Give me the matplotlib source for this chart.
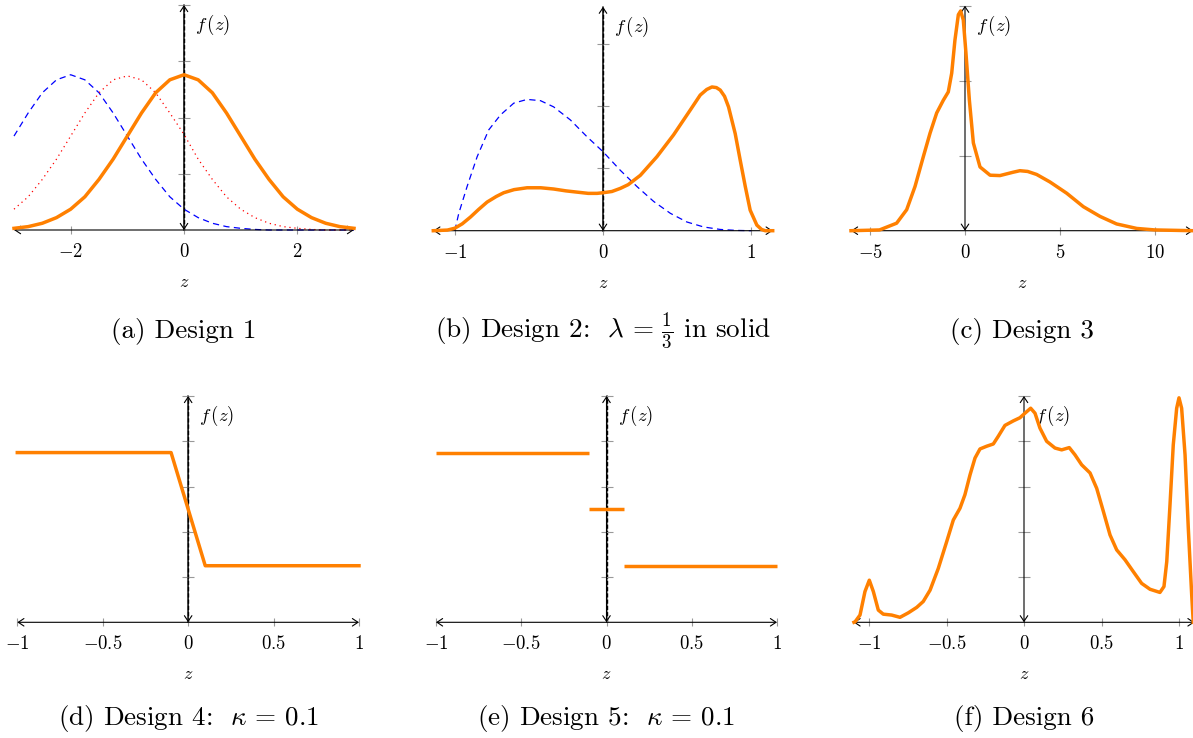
import numpy as np
import matplotlib.pyplot as plt

plt.rcParams['mathtext.fontset'] = 'cm'
plt.rcParams['font.family'] = ['DejaVu Serif']

ORANGE = '#ff8000'

# ---- panel (a): Design 1 ----
z_a = [-3.0, -2.75, -2.5, -2.25, -2.0, -1.75, -1.5, -1.25, -1.0, -0.75, -0.5, -0.25, 0.0,
       0.25, 0.5, 0.75, 1.0, 1.25, 1.5, 1.75, 2.0, 2.25, 2.5, 2.75, 3.0]
f_a_solid = [0.003, 0.006, 0.012, 0.022, 0.037, 0.059, 0.090, 0.126, 0.167, 0.208, 0.244, 0.267, 0.276,
             0.267, 0.244, 0.208, 0.167, 0.126, 0.090, 0.059, 0.037, 0.022, 0.012, 0.006, 0.003]
f_a_dashed = [0.167, 0.208, 0.244, 0.267, 0.276, 0.267, 0.244, 0.208, 0.167, 0.126, 0.090, 0.059, 0.037,
              0.022, 0.012, 0.006, 0.003, 0.001, 0.0, 0.0, 0.0, 0.0, 0.0, 0.0, 0.0]
f_a_dotted = [0.037, 0.059, 0.090, 0.126, 0.167, 0.208, 0.244, 0.267, 0.274, 0.267, 0.244, 0.208, 0.170,
              0.126, 0.090, 0.059, 0.037, 0.022, 0.012, 0.006, 0.003, 0.001, 0.0, 0.0, 0.0]

# ---- panel (b): Design 2 ----
z_b = [-1.145, -1.05, -1.0, -0.95, -0.894, -0.84, -0.782, -0.72, -0.67, -0.60, -0.512, -0.42, -0.333,
       -0.25, -0.175, -0.10, -0.04, 0.0, 0.06, 0.117, 0.17, 0.252, 0.364, 0.476, 0.589, 0.656, 0.70,
       0.735, 0.765, 0.791, 0.82, 0.847, 0.892, 0.926, 0.960, 0.993, 1.038, 1.07, 1.094, 1.145]
f_b_solid = [0.0, 0.005, 0.02, 0.055, 0.11, 0.17, 0.23, 0.275, 0.305, 0.33, 0.345, 0.345, 0.335,
             0.32, 0.31, 0.30, 0.30, 0.305, 0.315, 0.34, 0.37, 0.445, 0.595, 0.77, 0.97, 1.09, 1.135,
             1.155, 1.15, 1.13, 1.08, 0.995, 0.78, 0.565, 0.355, 0.165, 0.045, 0.01, 0.0, 0.0]
zb_dash = [-1.0, -0.973, -0.917, -0.849, -0.771, -0.692, -0.602, -0.512, -0.422, -0.333, -0.22, -0.108,
           0.0, 0.117, 0.229, 0.342, 0.454, 0.566, 0.679, 0.791, 0.90, 1.0]
f_b_dashed = [0.0, 0.14, 0.355, 0.595, 0.81, 0.93, 1.025, 1.055, 1.045, 0.995, 0.89, 0.755,
              0.635, 0.485, 0.355, 0.235, 0.14, 0.07, 0.03, 0.01, 0.0025, 0.0]

# ---- panel (c): Design 3 ----
z_c = [-6.0, -4.5, -3.6, -3.07, -2.63, -2.19, -1.84, -1.49, -1.14, -0.88, -0.70, -0.53, -0.35, -0.23,
       -0.09, 0.05, 0.23, 0.44, 0.79, 1.32, 1.84, 2.54, 2.89, 3.3, 3.77, 4.47, 5.35, 6.23, 7.11, 7.98,
       9.04, 10.0, 12.0]
f_c = [0.0, 0.001, 0.010, 0.028, 0.059, 0.099, 0.130, 0.157, 0.174, 0.185, 0.210, 0.254, 0.288, 0.293,
       0.281, 0.237, 0.174, 0.117, 0.085, 0.074, 0.0735, 0.078, 0.080, 0.079, 0.075, 0.065, 0.050, 0.032,
       0.019, 0.009, 0.003, 0.001, 0.0]

# ---- panels (d), (e): Designs 4 and 5 ----
z_d = [-1.0, -0.1, 0.1, 1.0]
f_d = [0.75, 0.75, 0.25, 0.25]
z_e_pieces = [(-1.0, -0.1), (-0.1, 0.1), (0.1, 1.0)]
f_e_pieces = [0.75, 0.5, 0.25]

# ---- panel (f): Design 6 ----
z_f = [-1.097, -1.090, -1.058, -1.026, -0.998, -0.972, -0.940, -0.908, -0.854, -0.800, -0.746, -0.692,
       -0.650, -0.606, -0.553, -0.499, -0.456, -0.413, -0.381, -0.348, -0.316, -0.284, -0.241, -0.198,
       -0.166, -0.123, -0.069, -0.026, 0.006, 0.043, 0.071, 0.103, 0.146, 0.200, 0.243, 0.292, 0.329,
       0.372, 0.426, 0.469, 0.512, 0.555, 0.598, 0.652, 0.705, 0.759, 0.813, 0.877, 0.903, 0.921, 0.942,
       0.963, 0.985, 1.0, 1.017, 1.039, 1.060, 1.082, 1.092]
f_f = [0.0, 0.002, 0.032, 0.136, 0.186, 0.136, 0.054, 0.036, 0.032, 0.022, 0.042, 0.066,
       0.092, 0.142, 0.238, 0.356, 0.452, 0.504, 0.564, 0.652, 0.726, 0.766, 0.778, 0.788,
       0.822, 0.870, 0.890, 0.904, 0.924, 0.946, 0.924, 0.858, 0.800, 0.770, 0.762, 0.772, 0.740,
       0.696, 0.660, 0.592, 0.490, 0.386, 0.320, 0.276, 0.224, 0.172, 0.146, 0.132, 0.158, 0.268, 0.520,
       0.784, 0.946, 0.992, 0.946, 0.740, 0.416, 0.120, 0.0]

W, H = 1193, 738
fig = plt.figure(figsize=(W / 100, H / 100), dpi=100)


def make_axes(x0, x1, base, top, xlim, ylim):
    ax = fig.add_axes([x0 / W, 1 - base / H, (x1 - x0) / W, (base - top) / H])
    ax.set_xlim(*xlim)
    ax.set_ylim(*ylim)
    ax.axis('off')
    return ax


def draw_frame(ax, xticks, xlabels, yticks, dashed_y=True):
    x0, x1 = ax.get_xlim()
    y1 = ax.get_ylim()[1]
    arrow = dict(arrowstyle='<->, head_length=0.45, head_width=0.3', lw=0.8, color='black',
                 shrinkA=0, shrinkB=0, mutation_scale=9)
    ax.annotate('', xy=(x1, 0), xytext=(x0, 0), arrowprops=arrow, annotation_clip=False)
    ax.annotate('', xy=(0, y1), xytext=(0, 0), arrowprops=arrow, annotation_clip=False)
    if dashed_y:
        ax.plot([0, 0], [0, y1], color='#888888', lw=1.4, zorder=1, clip_on=False)
        ax.plot([0, 0], [0, y1], color='black', lw=1.0, ls=(0, (3, 1.5)), zorder=2, clip_on=False)
    for xt, lab in zip(xticks, xlabels):
        ax.plot(xt, 0, marker='|', ms=6, mew=0.8, color='#999999', clip_on=False)
        ax.annotate(lab, (xt, 0), xytext=(0, -22), textcoords='offset pixels',
                    ha='center', va='center', fontsize=13.5)
    for yt in yticks:
        ax.plot(0, yt, marker='_', ms=8, mew=0.8, color='#999999', clip_on=False)
    ax.annotate('$z$', (0.5, 0), xycoords=('axes fraction', 'data'), xytext=(0, -52),
                textcoords='offset pixels', ha='center', va='center', fontsize=13)
    ax.annotate('$f\\,(z)$', (0, y1), xytext=(11, -20), textcoords='offset pixels',
                ha='left', va='center', fontsize=13.5)


def caption(ax, text, y_px):
    bb = ax.get_position()
    fig.text((bb.x0 + bb.x1) / 2, 1 - y_px / H, text, ha='center', va='center',
             fontsize=19.5, family='cmr10')


# (a)
ax = make_axes(14, 354, 230, 5, (-3, 3), (0, 0.4))
draw_frame(ax, [-2, 0, 2], ['$-2$', '$0$', '$2$'], [0.1, 0.2, 0.3, 0.4])
ax.plot(z_a, f_a_dashed, color='blue', lw=0.9, ls=(0, (5, 3.5)), clip_on=False)
ax.plot(z_a, f_a_dotted, color='red', lw=0.9, ls=(0, (1, 3)), clip_on=False)
ax.plot(z_a, f_a_solid, color=ORANGE, lw=2.5, clip_on=False, zorder=5)
caption(ax, '(a) Design 1', 331)

# (b)
ax = make_axes(433.3, 772.7, 230.7, 6.7, (-1.145, 1.145), (0, 1.8))
draw_frame(ax, [-1, 0, 1], ['$-1$', '$0$', '$1$'], [0.5, 1.0, 1.5])
ax.plot(zb_dash, f_b_dashed, color='blue', lw=0.9, ls=(0, (5, 3.5)), clip_on=False)
ax.plot(z_b, f_b_solid, color=ORANGE, lw=2.5, clip_on=False, zorder=5)
caption(ax, r'(b) Design 2:  $\lambda\,=\,\frac{1}{3}$ in solid', 331)

# (c)
ax = make_axes(851, 1193, 230.7, 5.7, (-6, 12), (0, 0.3))
draw_frame(ax, [-5, 0, 5, 10], ['$-5$', '$0$', '$5$', '$10$'], [0.1, 0.2, 0.3], dashed_y=False)
ax.plot(z_c, f_c, color=ORANGE, lw=2.5, clip_on=False, zorder=5)
caption(ax, '(c) Design 3', 331)

xt_bottom = [-1, -0.5, 0, 0.5, 1]
xl_bottom = ['$-1$', '$-0.5$', '$0$', '$0.5$', '$1$']

# (d)
ax = make_axes(17.3, 359, 622.3, 396, (-1, 1), (0, 1.0))
draw_frame(ax, xt_bottom, xl_bottom, [0.2, 0.4, 0.6, 0.8, 1.0])
ax.plot(z_d, f_d, color=ORANGE, lw=2.5, clip_on=False, zorder=5)
caption(ax, r'(d) Design 4:  $\kappa\,=\,0.1$', 718)

# (e)
ax = make_axes(436, 777, 622.3, 396, (-1, 1), (0, 1.0))
draw_frame(ax, xt_bottom, xl_bottom, [0.2, 0.4, 0.6, 0.8, 1.0])
for (za, zb), fv in zip(z_e_pieces, f_e_pieces):
    ax.plot([za, zb], [fv, fv], color=ORANGE, lw=2.5, clip_on=False, zorder=5,
            solid_capstyle='butt')
caption(ax, r'(e) Design 5:  $\kappa\,=\,0.1$', 718)

# (f)
ax = make_axes(853.5, 1194.5, 622.3, 396, (-1.1, 1.1), (0, 1.0))
draw_frame(ax, xt_bottom, xl_bottom, [0.2, 0.4, 0.6, 0.8, 1.0], dashed_y=False)
ax.plot(z_f, f_f, color=ORANGE, lw=2.5, clip_on=False, zorder=5)
caption(ax, '(f) Design 6', 718)

fig.savefig('out.png', dpi=100)
